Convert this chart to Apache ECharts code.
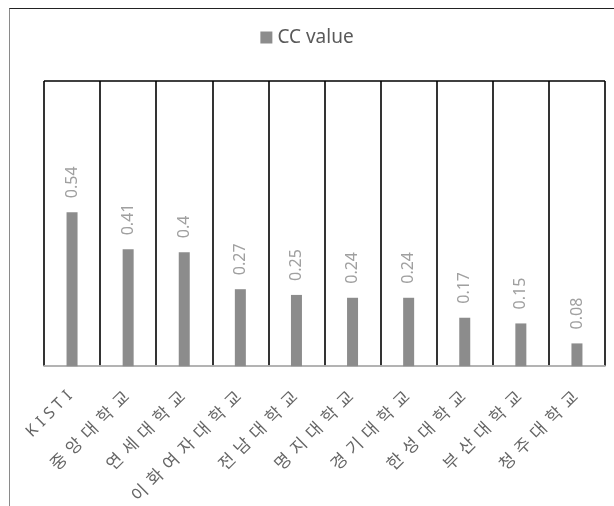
<!DOCTYPE html>
<html><head><meta charset="utf-8">
<script src="https://cdn.jsdelivr.net/npm/echarts@6/dist/echarts.min.js"></script>
<style>
html,body{margin:0;padding:0;background:#fff;}
#c{width:614px;height:506px;position:absolute;left:0;top:0;}
#frame{position:absolute;left:9px;top:8px;width:700px;height:600px;border-top:1px solid #222;border-left:1px solid #8a8a8a;pointer-events:none;}
</style></head>
<body>
<div id="c"></div>
<div id="frame"></div>
<script>
var categories = ['KISTI','중앙대학교','연세대학교','이화여자대학교','전남대학교','명지대학교','경기대학교','한성대학교','부산대학교','청주대학교'];
var ccValues = [0.54,0.41,0.4,0.27,0.25,0.24,0.24,0.17,0.15,0.08];
var seriesName = 'CC value';

// spread each character into its own rich segment (wide Excel-like glyph spacing)
function spaced(s){
  return s.split('').map(function(ch){
    return /[\u3131-\uD7A3]/.test(ch) ? '{k|' + ch + '}' : '{l|' + ch + '}';
  }).join('');
}

var chart = echarts.init(document.getElementById('c'), null, {renderer:'canvas'});
chart.setOption({
  animation:false,
  textStyle:{fontFamily:'"Noto Sans CJK KR","Noto Sans",sans-serif'},
  legend:{
    data:[seriesName], top:23, left:'center', icon:'rect', itemWidth:12, itemHeight:12, itemGap:6,
    textStyle:{color:'#595959', fontSize:19, fontFamily:'"Noto Sans","Noto Sans CJK KR",sans-serif'}
  },
  grid:{left:44, right:9, top:81, bottom:139, containLabel:false},
  xAxis:{
    type:'category', data:categories, boundaryGap:true,
    axisLine:{show:true, lineStyle:{color:'#d9d9d9', width:1.5}},
    axisTick:{show:false},
    splitLine:{show:true, lineStyle:{color:'#000', width:1.6}},
    axisLabel:{
      rotate:45, margin:25, color:'#666', fontSize:17, interval:0,
      formatter:function(v){ return spaced(v); },
      rich:{
        k:{width:22, align:'center', fontSize:17, color:'#666', fontFamily:'"Noto Sans CJK KR",sans-serif'},
        l:{width:12.5, align:'center', fontSize:16, color:'#666', fontFamily:'"Noto Sans",sans-serif'}
      }
    }
  },
  yAxis:{
    type:'value', min:0, max:1, interval:1,
    axisLine:{show:false}, axisTick:{show:false}, axisLabel:{show:false},
    splitLine:{show:true, lineStyle:{color:'#000', width:1.6}}
  },
  series:[{
    name:seriesName, type:'bar', data:ccValues, barWidth:11,
    itemStyle:{color:'#8c8c8c'},
    label:{show:true, position:'top', distance:14, rotate:90, align:'left', verticalAlign:'middle',
      color:'#a0a0a0', fontSize:16, fontFamily:'"Noto Sans",sans-serif'}
  }]
});
</script>
</body></html>
